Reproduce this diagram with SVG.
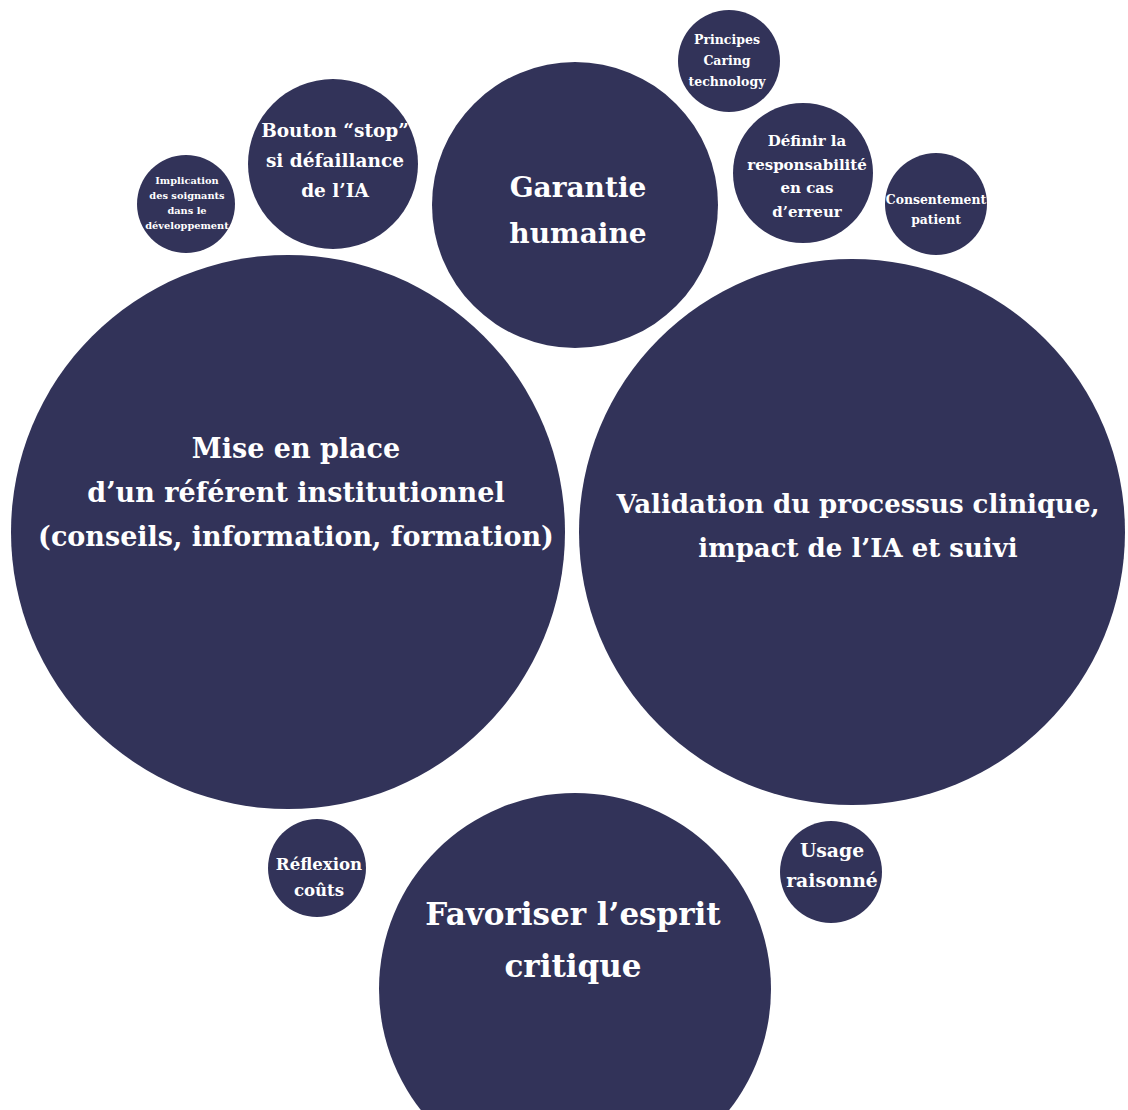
<svg xmlns="http://www.w3.org/2000/svg" width="1128" height="1110" viewBox="0 0 1128 1110">
<style>
.b{fill:#323359}
text{fill:#ffffff;font-family:"DejaVu Serif","Liberation Serif",serif;font-weight:bold;text-anchor:middle}
</style>
<rect width="1128" height="1110" fill="#ffffff"/>
<g id="implication"><circle class="b" cx="186" cy="204" r="49"/>
<text font-size="9.8"><tspan x="187" y="184">Implication</tspan><tspan x="187" y="199">des soignants</tspan><tspan x="187" y="214">dans le</tspan><tspan x="187" y="229">développement</tspan></text></g>
<g id="bouton-stop"><circle class="b" cx="333" cy="164" r="85"/>
<text font-size="18.5"><tspan x="335" y="137">Bouton “stop”</tspan><tspan x="335" y="167">si défaillance</tspan><tspan x="335" y="197">de l’IA</tspan></text></g>
<g id="garantie"><circle class="b" cx="575" cy="205" r="143"/>
<text font-size="28"><tspan x="578" y="197">Garantie</tspan><tspan x="578" y="243">humaine</tspan></text></g>
<g id="principes"><circle class="b" cx="729" cy="61" r="51"/>
<text font-size="12.5"><tspan x="727" y="44">Principes</tspan><tspan x="727" y="65">Caring</tspan><tspan x="727" y="86">technology</tspan></text></g>
<g id="definir"><circle class="b" cx="803" cy="173" r="70"/>
<text font-size="15"><tspan x="807" y="146">Définir la</tspan><tspan x="807" y="170">responsabilité</tspan><tspan x="807" y="193">en cas</tspan><tspan x="807" y="217">d’erreur</tspan></text></g>
<g id="consentement"><circle class="b" cx="936" cy="204" r="51"/>
<text font-size="12.4"><tspan x="936" y="204">Consentement</tspan><tspan x="936" y="224">patient</tspan></text></g>
<g id="referent"><circle class="b" cx="288" cy="532" r="277"/>
<text font-size="27"><tspan x="296" y="458">Mise en place</tspan><tspan x="296" y="502">d’un référent institutionnel</tspan><tspan x="296" y="546">(conseils, information, formation)</tspan></text></g>
<g id="validation"><circle class="b" cx="852" cy="532" r="273"/>
<text font-size="26"><tspan x="858" y="513">Validation du processus clinique,</tspan><tspan x="858" y="557">impact de l’IA et suivi</tspan></text></g>
<g id="esprit-critique"><circle class="b" cx="575" cy="989" r="196"/>
<text font-size="31"><tspan x="573" y="925">Favoriser l’esprit</tspan><tspan x="573" y="977">critique</tspan></text></g>
<g id="reflexion"><circle class="b" cx="317" cy="868" r="49"/>
<text font-size="16.6"><tspan x="319" y="870">Réflexion</tspan><tspan x="319" y="896">coûts</tspan></text></g>
<g id="usage"><circle class="b" cx="831" cy="872" r="51"/>
<text font-size="18.8"><tspan x="832" y="857">Usage</tspan><tspan x="832" y="887">raisonné</tspan></text></g>
</svg>
